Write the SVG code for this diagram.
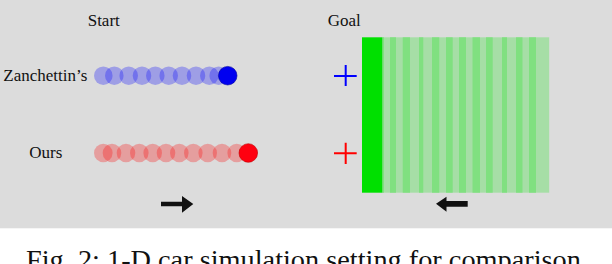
<svg xmlns="http://www.w3.org/2000/svg" width="612" height="264" viewBox="0 0 612 264">
<style>
.lbl{font-family:"Liberation Serif","Times New Roman",serif;font-size:17px;fill:#111}
.cap{font-family:"Liberation Serif","Times New Roman",serif;font-size:28.3px;fill:#111}
.fb{fill:#0000ff;fill-opacity:0.28}
.fr{fill:#ff0000;fill-opacity:0.28}
.st{fill:#80e080}
.arr{fill:#111}
</style>
<rect x="0" y="0" width="612" height="228.3" fill="#dcdcdc"/>
<g id="labels">
<text class="lbl" x="87.7" y="26">Start</text>
<text class="lbl" x="327.7" y="26">Goal</text>
<text class="lbl" x="3.3" y="81">Zanchettin’s</text>
<text class="lbl" x="29.3" y="157.7">Ours</text>
</g>
<g id="zanchettin-row">
<circle class="fb" cx="103.3" cy="75.7" r="9.3"/>
<circle class="fb" cx="114.3" cy="75.7" r="9.3"/>
<circle class="fb" cx="128.7" cy="75.7" r="9.3"/>
<circle class="fb" cx="142" cy="75.7" r="9.3"/>
<circle class="fb" cx="155.3" cy="75.7" r="9.3"/>
<circle class="fb" cx="168.7" cy="75.7" r="9.3"/>
<circle class="fb" cx="182" cy="75.7" r="9.3"/>
<circle class="fb" cx="196" cy="75.7" r="9.3"/>
<circle class="fb" cx="209.3" cy="75.7" r="9.3"/>
<circle class="fb" cx="218.7" cy="75.7" r="9.3"/>
<circle cx="227.7" cy="75.7" r="9.3" fill="#0000f0" stroke="#0000a0" stroke-width="0.6"/>
</g>
<g id="ours-row">
<circle class="fr" cx="103.3" cy="153" r="9.3"/>
<circle class="fr" cx="112" cy="153" r="9.3"/>
<circle class="fr" cx="126" cy="153" r="9.3"/>
<circle class="fr" cx="139.3" cy="153" r="9.3"/>
<circle class="fr" cx="152.7" cy="153" r="9.3"/>
<circle class="fr" cx="166" cy="153" r="9.3"/>
<circle class="fr" cx="179.3" cy="153" r="9.3"/>
<circle class="fr" cx="193.3" cy="153" r="9.3"/>
<circle class="fr" cx="207.7" cy="153" r="9.3"/>
<circle class="fr" cx="222" cy="153" r="9.3"/>
<circle class="fr" cx="236.7" cy="153" r="9.3"/>
<circle cx="248.3" cy="153" r="9.3" fill="#ff0010" stroke="#c00000" stroke-width="0.6"/>
</g>
<g id="goal">
<rect x="382.3" y="37.3" width="166.9" height="155.4" fill="#a6dea6"/>
<rect class="st" x="382.3" y="37.3" width="1.7" height="155.4"/>
<rect class="st" x="390" y="37.3" width="6" height="155.4"/>
<rect class="st" x="402.7" y="37.3" width="7.3" height="155.4"/>
<rect class="st" x="419" y="37.3" width="4.3" height="155.4"/>
<rect class="st" x="432" y="37.3" width="7.3" height="155.4"/>
<rect class="st" x="446" y="37.3" width="6.7" height="155.4"/>
<rect class="st" x="459" y="37.3" width="7" height="155.4"/>
<rect class="st" x="472.5" y="37.3" width="7.5" height="155.4"/>
<rect class="st" x="486" y="37.3" width="6.7" height="155.4"/>
<rect class="st" x="502" y="37.3" width="5" height="155.4"/>
<rect class="st" x="516" y="37.3" width="6.5" height="155.4"/>
<rect class="st" x="529" y="37.3" width="7" height="155.4"/>
<rect x="362" y="37.3" width="20.3" height="155.4" fill="#00e000"/>
</g>
<g id="crosses">
<path d="M334 76H356.7M345.7 65V86" stroke="#0000ff" stroke-width="2" fill="none"/>
<path d="M334 153.3H356.7M345.7 142.7V164" stroke="#ff0000" stroke-width="2" fill="none"/>
</g>
<g id="arrows">
<path class="arr" d="M161 201.7H182V196L193.3 204L182 212.7V206.3H161Z"/>
<path class="arr" d="M467.7 201H446.5V196.7L436 203.8L446.5 211.7V206.7H467.7Z"/>
</g>
<text class="cap" x="26" y="268.7">Fig. 2: 1-D car simulation setting for comparison</text>
</svg>
